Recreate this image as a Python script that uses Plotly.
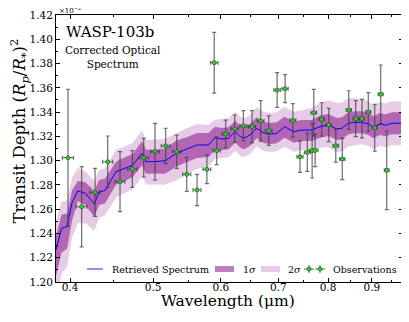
import math

import plotly.graph_objects as go

# observations (wavelength in micron, transit depth in units of 1e-2)
obs_wl = [0.3978, 0.4127, 0.4278, 0.4426, 0.4575, 0.4729, 0.4876, 0.5026, 0.5172, 0.5328,
          0.5473, 0.5627, 0.5778, 0.5893, 0.5932, 0.6077, 0.6225, 0.6373, 0.6523, 0.6677,
          0.6822, 0.6978, 0.7129, 0.7279, 0.7420, 0.7567, 0.7666, 0.7700, 0.7728, 0.7866,
          0.8016, 0.8169, 0.8313, 0.8459, 0.8618, 0.8765, 0.8915, 0.9070, 0.9217, 0.9367]
obs_depth = [1.3024, 1.2620, 1.2739, 1.2991, 1.2827, 1.2931, 1.3024, 1.3074, 1.3121, 1.3074,
             1.2887, 1.2758, 1.2928, 1.3807, 1.3082, 1.3219, 1.3263, 1.3288, 1.3280, 1.3327,
             1.3247, 1.3582, 1.3593, 1.3332, 1.3032, 1.3068, 1.3082, 1.3395, 1.3085, 1.3340,
             1.3294, 1.3123, 1.3013, 1.3417, 1.3346, 1.3346, 1.3401, 1.3271, 1.3547, 1.2920]
obs_err = [0.0564, 0.0330, 0.0198, 0.0212, 0.0247, 0.0151, 0.0159, 0.0233, 0.0146, 0.0137,
           0.0140, 0.0129, 0.0118, 0.0250, 0.0115, 0.0115, 0.0113, 0.0124, 0.0132, 0.0167,
           0.0121, 0.0143, 0.0115, 0.0137, 0.0129, 0.0157, 0.0225, 0.0192, 0.0134, 0.0137,
           0.0137, 0.0135, 0.0170, 0.0159, 0.0148, 0.0159, 0.0159, 0.0192, 0.0241, 0.0324]
obs_half_bin = 0.006

# retrieved spectrum and its 1 and 2 sigma envelopes
model_wl = [0.3852, 0.3910, 0.3968, 0.4022, 0.4084, 0.4170, 0.4270, 0.4324, 0.4394, 0.4526,
            0.4587, 0.4734, 0.4853, 0.4906, 0.5039, 0.5163, 0.5327, 0.5472, 0.5622, 0.5801,
            0.5906, 0.6013, 0.6122, 0.6236, 0.6319, 0.6377, 0.6487, 0.6604, 0.6721, 0.6848,
            0.6971, 0.7119, 0.7296, 0.7450, 0.7656, 0.7834, 0.8007, 0.8189, 0.8304, 0.8451,
            0.8604, 0.8770, 0.8914, 0.9038, 0.9196, 0.9330, 0.9499, 0.9786]
model_depth = [1.2264, 1.2442, 1.2456, 1.2655, 1.2750, 1.2731, 1.2643, 1.2742, 1.2754, 1.2909,
               1.2923, 1.2964, 1.3060, 1.2991, 1.2993, 1.2999, 1.3060, 1.3093, 1.3129, 1.3129,
               1.3189, 1.3178, 1.3184, 1.3238, 1.3197, 1.3184, 1.3211, 1.3266, 1.3230, 1.3219,
               1.3225, 1.3280, 1.3238, 1.3252, 1.3252, 1.3280, 1.3294, 1.3261, 1.3266, 1.3308,
               1.3316, 1.3316, 1.3302, 1.3275, 1.3302, 1.3291, 1.3308, 1.3308]
sig1_up = [0.0115, 0.0115, 0.0107, 0.0099, 0.0082, 0.0091, 0.0107, 0.0099, 0.0099, 0.0082,
           0.0091, 0.0091, 0.0099, 0.0099, 0.0099, 0.0099, 0.0107, 0.0099, 0.0099, 0.0099,
           0.0091, 0.0091, 0.0091, 0.0091, 0.0091, 0.0091, 0.0091, 0.0091, 0.0091, 0.0091,
           0.0091, 0.0082, 0.0082, 0.0082, 0.0082, 0.0091, 0.0091, 0.0091, 0.0091, 0.0091,
           0.0091, 0.0091, 0.0091, 0.0091, 0.0091, 0.0091, 0.0091, 0.0091]
sig1_dn = [0.0214, 0.0198, 0.0181, 0.0148, 0.0082, 0.0099, 0.0107, 0.0107, 0.0107, 0.0107,
           0.0107, 0.0099, 0.0099, 0.0099, 0.0099, 0.0107, 0.0107, 0.0107, 0.0107, 0.0099,
           0.0099, 0.0091, 0.0091, 0.0091, 0.0091, 0.0091, 0.0091, 0.0082, 0.0082, 0.0082,
           0.0082, 0.0091, 0.0091, 0.0091, 0.0091, 0.0091, 0.0091, 0.0091, 0.0091, 0.0091,
           0.0091, 0.0091, 0.0091, 0.0091, 0.0091, 0.0091, 0.0091, 0.0091]
sig2_up = [0.0231, 0.0222, 0.0214, 0.0206, 0.0190, 0.0181, 0.0190, 0.0181, 0.0181, 0.0181,
           0.0181, 0.0181, 0.0190, 0.0181, 0.0181, 0.0181, 0.0165, 0.0173, 0.0173, 0.0165,
           0.0148, 0.0165, 0.0165, 0.0165, 0.0165, 0.0165, 0.0165, 0.0173, 0.0173, 0.0173,
           0.0173, 0.0165, 0.0165, 0.0165, 0.0181, 0.0198, 0.0206, 0.0214, 0.0214, 0.0206,
           0.0198, 0.0190, 0.0190, 0.0181, 0.0181, 0.0181, 0.0181, 0.0181]
sig2_dn = [0.0412, 0.0371, 0.0330, 0.0288, 0.0264, 0.0247, 0.0222, 0.0214, 0.0206, 0.0214,
           0.0206, 0.0198, 0.0190, 0.0190, 0.0190, 0.0198, 0.0222, 0.0206, 0.0198, 0.0181,
           0.0173, 0.0157, 0.0157, 0.0157, 0.0157, 0.0157, 0.0157, 0.0148, 0.0148, 0.0148,
           0.0148, 0.0165, 0.0165, 0.0165, 0.0165, 0.0173, 0.0181, 0.0190, 0.0190, 0.0190,
           0.0190, 0.0181, 0.0181, 0.0181, 0.0181, 0.0181, 0.0181, 0.0181]

x_ticks = [0.4, 0.5, 0.6, 0.7, 0.8, 0.9]
x_minor = [0.45, 0.55, 0.65, 0.75, 0.85, 0.95]

SERIF = "DejaVu Serif"
C1 = "rgba(128,0,128,0.5)"
C2 = "rgba(128,0,128,0.2)"
ERR = "rgba(60,60,60,0.75)"
GREEN = "#22dd22"
EDGE = "#1d4d1d"


def band(up, dn):
    hi = [m + u for m, u in zip(model_depth, up)]
    lo = [m - d for m, d in zip(model_depth, dn)]
    return model_wl + model_wl[::-1], hi + lo[::-1]


fig = go.Figure()

bx, by = band(sig2_up, sig2_dn)
fig.add_trace(go.Scatter(x=bx, y=by, fill="toself", fillcolor=C2, mode="none", name="2σ"))
bx, by = band(sig1_up, sig1_dn)
fig.add_trace(go.Scatter(x=bx, y=by, fill="toself", fillcolor=C1, mode="none", name="1σ"))
fig.add_trace(go.Scatter(x=model_wl, y=model_depth, mode="lines", name="Retrieved Spectrum",
                         line=dict(color="blue", width=1)))
fig.add_trace(go.Scatter(
    x=obs_wl, y=obs_depth, mode="markers", name="Observations",
    marker=dict(color=GREEN, size=4, line=dict(color=EDGE, width=0.7)),
    error_y=dict(type="data", array=obs_err, color=ERR, thickness=1.2, width=2),
    error_x=dict(type="constant", value=obs_half_bin, color=ERR, thickness=1.2, width=2),
))

# plot area as it should appear in the 409x322 window
L, T, W, H = 56, 15, 347, 267
PAGE_OFFSET = 8  # the page body shifts the figure by this much


def px(x):
    return (x - L) / W


def py(y):
    return (T + H - y) / H


# hand-made one-row legend (plotly's own legend is too wide for this figure)
ly = 269
shapes = [
    dict(type="line", x0=px(87), x1=px(103), y0=py(ly), y1=py(ly),
         line=dict(color="rgba(40,40,255,0.8)", width=1.3)),
    dict(type="rect", x0=px(215), x1=px(234), y0=py(ly + 3), y1=py(ly - 3),
         fillcolor=C1, line=dict(width=0)),
    dict(type="rect", x0=px(261), x1=px(280), y0=py(ly + 3), y1=py(ly - 3),
         fillcolor=C2, line=dict(width=0)),
]
for cx in (309, 320):
    shapes += [
        dict(type="line", x0=px(cx - 5), x1=px(cx + 5), y0=py(ly), y1=py(ly),
             line=dict(color=ERR, width=1.1)),
        dict(type="line", x0=px(cx), x1=px(cx), y0=py(ly - 4), y1=py(ly + 4),
             line=dict(color=ERR, width=1.1)),
        dict(type="circle", x0=px(cx - 2), x1=px(cx + 2), y0=py(ly + 2), y1=py(ly - 2),
             fillcolor=GREEN, line=dict(color=EDGE, width=0.7)),
    ]
for s in shapes:
    s.update(xref="paper", yref="paper")

annotations = [
    dict(text="Retrieved Spectrum", x=px(110), y=py(ly), xanchor="left"),
    dict(text="1<i>σ</i>", x=px(241), y=py(ly), xanchor="left"),
    dict(text="2<i>σ</i>", x=px(286), y=py(ly), xanchor="left"),
    dict(text="Observations", x=px(331), y=py(ly), xanchor="left"),
]
for a in annotations:
    a.update(font=dict(family=SERIF, size=9.5, color="black"))

annotations += [
    dict(text="×10<sup>−2</sup>", x=px(57), y=py(16.5), xanchor="left", yanchor="bottom",
         font=dict(family=SERIF, size=7, color="black")),
    dict(text="WASP-103b", x=px(64), y=py(32), xanchor="left",
         font=dict(family=SERIF, size=15, color="black")),
    dict(text="Corrected Optical<br>Spectrum", x=px(113), y=py(57), align="center",
         font=dict(family=SERIF, size=10.5, color="black")),
    # axis titles
    dict(text="Wavelength (μm)", x=px(228), y=py(301),
         font=dict(family=SERIF, size=15.5, color="black")),
    dict(text="Transit Depth (<i>R</i><sub><i>p</i></sub>/<i>R</i><sub>*</sub>)<sup>2</sup>",
         x=px(19.5), y=py(131), textangle=-90,
         font=dict(family=SERIF, size=16.5, color="black")),
]
for a in annotations:
    a.setdefault("xanchor", "center")
    a.setdefault("yanchor", "middle")
    a.update(xref="paper", yref="paper", showarrow=False)

axis_common = dict(showline=True, linecolor="black", linewidth=1, mirror="allticks",
                   ticks="inside", ticklen=4, tickcolor="black", showgrid=False,
                   zeroline=False, automargin=False,
                   tickfont=dict(family=SERIF, size=10.5, color="black"))

fig.update_xaxes(
    type="log", range=[math.log10(0.3852), math.log10(0.9786)],
    tickvals=x_ticks, ticktext=[f"{v:.1f}" for v in x_ticks], ticklabelstandoff=-5,
    minor=dict(tickvals=x_minor, ticks="inside", ticklen=2, tickcolor="black"),
    **axis_common,
)
fig.update_yaxes(
    range=[1.20, 1.42], tick0=1.20, dtick=0.02, tickformat=".2f",
    minor=dict(dtick=0.01, ticks="inside", ticklen=2, tickcolor="black"),
    **axis_common,
)

ml, mt = L - PAGE_OFFSET, T - PAGE_OFFSET
fig.update_layout(
    template="none",
    width=409, height=322,
    margin=dict(l=ml, r=409 - ml - W, t=mt, b=322 - mt - H),
    plot_bgcolor="white", paper_bgcolor="white",
    font=dict(family=SERIF, color="black"),
    showlegend=False,
    shapes=shapes, annotations=annotations,
)

fig.write_html("out.html")
